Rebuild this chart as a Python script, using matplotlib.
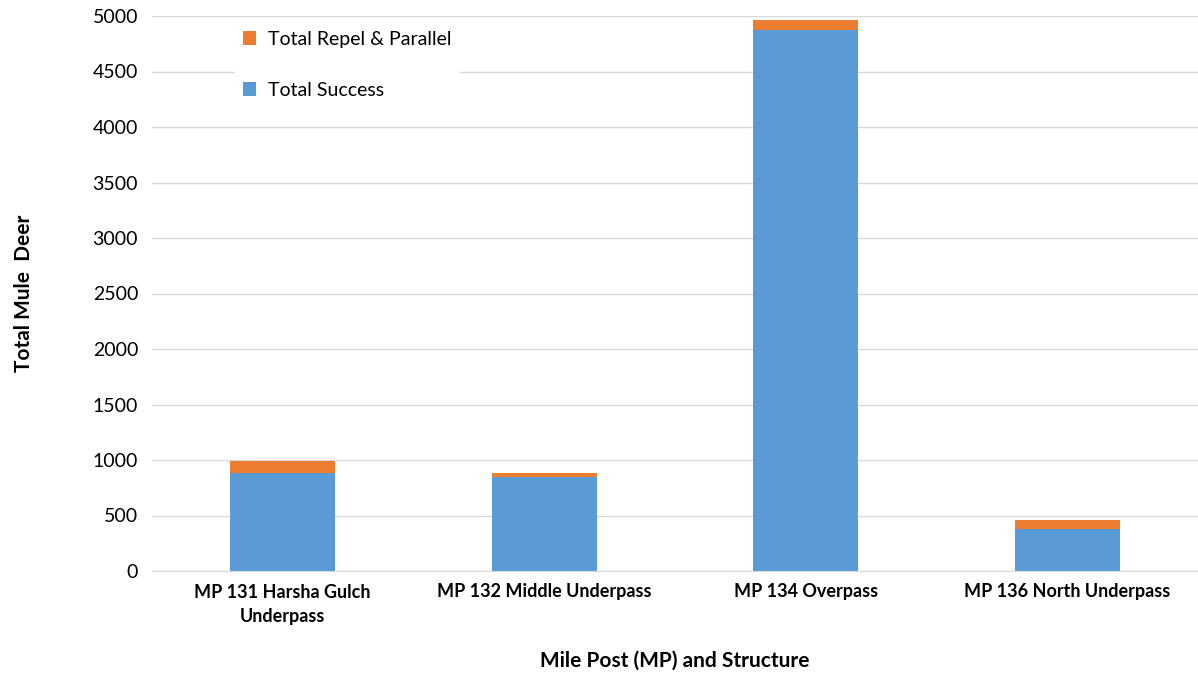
import matplotlib.pyplot as plt
import numpy as np
import matplotlib as mpl

mpl.rcParams['font.family'] = ['Lato', 'DejaVu Sans']
mpl.rcParams['font.size'] = 14

structures = ["MP 131 Harsha Gulch\nUnderpass", "MP 132 Middle Underpass",
              "MP 134 Overpass", "MP 136 North Underpass"]
total_success = [885, 845, 4870, 378]
total_repel = [105, 35, 90, 80]

blue = "#5b9bd5"
orange = "#ed7d31"

fig = plt.figure(figsize=(11.98, 6.76), dpi=100)
ax = fig.add_axes([152/1198, 1 - 571/676, 1 - 152/1198, (571 - 16)/676])

x = np.arange(len(structures))
ax.bar(x, total_success, width=0.4, color=blue, label="Total Success", zorder=2)
ax.bar(x, total_repel, width=0.4, bottom=total_success, color=orange,
       label="Total Repel & Parallel", zorder=2)

ax.set_xlim(-0.5, len(structures) - 0.5)
ax.set_ylim(0, 5000)
ax.set_yticks(np.arange(0, 5001, 500))
ax.set_xticks(x)
ax.set_xticklabels(structures, fontweight='bold', fontsize=13, linespacing=1.55)
ax.tick_params(axis='both', length=0, pad=9)
ax.tick_params(axis='y', labelsize=14, pad=10)
ax.grid(axis='y', color='#d9d9d9', linewidth=1, zorder=0)
for s in ax.spines.values():
    s.set_visible(False)
ax.spines['bottom'].set_visible(True)
ax.spines['bottom'].set_color('#d9d9d9')

ax.set_xlabel("Mile Post (MP) and Structure", fontweight='bold', fontsize=15, labelpad=18)
ax.set_ylabel("Total Mule  Deer", fontweight='bold', fontsize=15, labelpad=42)

handles, labels = ax.get_legend_handles_labels()
leg = ax.legend(handles[::-1], labels[::-1], loc='upper left', bbox_to_anchor=(0.07, 1.005),
                frameon=True, framealpha=1, edgecolor='white', fontsize=14,
                handlelength=0.7, handleheight=0.7, labelspacing=1.75, handletextpad=0.6)

fig.savefig("out.png", dpi=100)
